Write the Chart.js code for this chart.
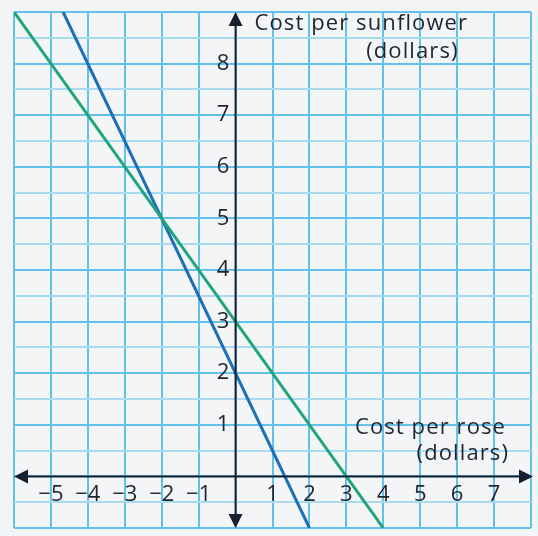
<!DOCTYPE html>
<html>
<head>
<meta charset="utf-8">
<script src="https://cdn.jsdelivr.net/npm/chart.js@4.4.1/dist/chart.umd.min.js"></script>
<style>
  html, body { margin: 0; padding: 0; background: #f4f5f7; }
  #wrap { width: 538px; height: 536px; }
</style>
</head>
<body>
<div id="wrap"><canvas id="c" width="538" height="536"></canvas></div>
<script>
// ---- data ----
const xLabels = [-5, -4, -3, -2, -1, 1, 2, 3, 4, 5, 6, 7];
const yLabels = [1, 2, 3, 4, 5, 6, 7, 8];
const xRange = [-6, 8];
const yRange = [-1, 9];
const blueX = [-4.67, 2];
const blueY = [9, -1];
const greenX = [-6, 4];
const greenY = [9, -1];
const xTitle = ["Cost per rose", "(dollars)"];
const yTitle = ["Cost per sunflower", "(dollars)"];

const FONT = '"Open Sans", "Noto Sans", sans-serif';
const INK = '#1f2430';
const AXIS = '#17202e';
const GRID_MAJOR = '#63c1ea';
const GRID_MINOR = '#a9daf1';
const Y_LABEL_AT = -0.17; // y tick labels sit just left of the x=0 axis

function pts(xs, ys) { return xs.map((x, i) => ({ x: x, y: ys[i] })); }
function noPad(s) { s.paddingTop = 0; s.paddingBottom = 0; s.paddingLeft = 0; s.paddingRight = 0; }

const axesPlugin = {
  id: 'axesArrows',
  afterDatasetsDraw(chart) {
    const { ctx, chartArea: a, scales: { x, y } } = chart;
    const x0 = x.getPixelForValue(0);
    const y0 = y.getPixelForValue(0);
    ctx.save();
    ctx.strokeStyle = AXIS;
    ctx.fillStyle = AXIS;
    ctx.lineWidth = 2;
    ctx.beginPath();
    ctx.moveTo(a.left + 8, y0); ctx.lineTo(a.right - 6, y0);
    ctx.moveTo(x0, a.top + 8); ctx.lineTo(x0, a.bottom - 8);
    ctx.stroke();
    const L = 14, W = 7;
    ctx.beginPath(); ctx.moveTo(a.right + 2, y0); ctx.lineTo(a.right + 2 - L, y0 - W); ctx.lineTo(a.right + 2 - L, y0 + W); ctx.closePath(); ctx.fill();
    ctx.beginPath(); ctx.moveTo(a.left, y0); ctx.lineTo(a.left + L, y0 - W); ctx.lineTo(a.left + L, y0 + W); ctx.closePath(); ctx.fill();
    ctx.beginPath(); ctx.moveTo(x0, a.top); ctx.lineTo(x0 - W, a.top + L); ctx.lineTo(x0 + W, a.top + L); ctx.closePath(); ctx.fill();
    ctx.beginPath(); ctx.moveTo(x0, a.bottom); ctx.lineTo(x0 - W, a.bottom - L); ctx.lineTo(x0 + W, a.bottom - L); ctx.closePath(); ctx.fill();

    // axis titles
    ctx.fillStyle = INK;
    ctx.font = '22px ' + FONT;
    if ('letterSpacing' in ctx) ctx.letterSpacing = '1.1px';
    ctx.textBaseline = 'middle';
    ctx.textAlign = 'left';
    ctx.fillText(yTitle[0], x0 + 19, a.top + 12);
    ctx.textAlign = 'right';
    ctx.fillText(yTitle[1], x0 + 223, a.top + 40);
    ctx.fillText(xTitle[0], a.right - 25, y0 - 49);
    ctx.fillText(xTitle[1], a.right - 22, y0 - 23);
    ctx.restore();
  }
};

new Chart(document.getElementById('c'), {
  type: 'scatter',
  data: {
    datasets: [
      { data: pts(greenX, greenY), showLine: true, borderColor: '#1fa47c', borderWidth: 3, pointRadius: 0, fill: false },
      { data: pts(blueX, blueY), showLine: true, borderColor: '#1d6fb8', borderWidth: 3, pointRadius: 0, fill: false }
    ]
  },
  options: {
    responsive: false,
    animation: false,
    layout: { padding: { left: 14, right: 7, top: 12, bottom: 8 } },
    plugins: { legend: { display: false }, tooltip: { enabled: false } },
    scales: {
      x: {
        type: 'linear',
        position: { y: 0 },
        min: xRange[0], max: xRange[1],
        afterFit: noPad,
        border: { display: false },
        grid: { color: GRID_MAJOR, lineWidth: 2, drawTicks: false },
        ticks: {
          stepSize: 1, padding: 5, color: INK, autoSkip: false, maxRotation: 0,
          font: { family: FONT, size: 22 },
          callback: v => xLabels.includes(v) ? (v < 0 ? '\u2212' + Math.abs(v) : String(v)) : ''
        }
      },
      y: {
        type: 'linear',
        position: { x: Y_LABEL_AT },
        min: yRange[0], max: yRange[1],
        afterFit: noPad,
        border: { display: false },
        grid: {
          color: c => (c.tick && Number.isInteger(c.tick.value)) ? GRID_MAJOR : GRID_MINOR,
          lineWidth: 2, drawTicks: false
        },
        ticks: {
          stepSize: 0.5, padding: 0, color: INK, autoSkip: false,
          font: { family: FONT, size: 22 },
          callback: v => yLabels.includes(v) ? String(v) : ''
        }
      }
    }
  },
  plugins: [axesPlugin]
});
</script>
</body>
</html>
